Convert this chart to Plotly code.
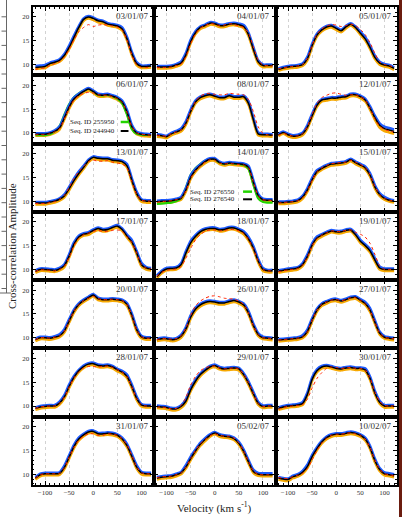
import plotly.graph_objects as go
from plotly.subplots import make_subplots

velocity = [-120, -110, -100, -90, -80, -70, -60, -50, -40, -30, -20, -10, 0,
            10, 20, 30, 40, 50, 60, 70, 80, 90, 100, 110, 120]

dates = ["03/01/07", "04/01/07", "05/01/07", "06/01/07", "08/01/07", "12/01/07",
         "13/01/07", "14/01/07", "15/01/07", "17/01/07", "18/01/07", "19/01/07",
         "20/01/07", "26/01/07", "27/01/07", "28/01/07", "29/01/07", "30/01/07",
         "31/01/07", "05/02/07", "10/02/07"]

black = [
    [9.4, 9.5, 9.6, 10.2, 10.5, 10.9, 11.9, 13.6, 15.7, 17.8, 19.5, 20.0, 19.7, 19.2, 19.0, 18.5, 18.3, 18.1, 17.5, 15.4, 12.3, 10.2, 9.6, 9.6, 9.7],
    [9.5, 9.5, 9.5, 9.6, 9.9, 10.3, 12.0, 14.8, 16.7, 17.8, 18.2, 18.7, 18.6, 18.2, 18.2, 18.5, 18.6, 18.4, 18.0, 16.3, 13.3, 10.6, 9.8, 9.8, 9.8],
    [9.0, 9.3, 9.5, 9.6, 9.7, 10.0, 11.2, 14.0, 16.2, 17.3, 17.9, 18.1, 17.6, 17.1, 17.9, 18.5, 17.8, 16.6, 15.4, 13.6, 11.5, 10.3, 9.9, 9.7, 9.2],
    [9.7, 9.7, 9.7, 9.9, 10.3, 11.0, 13.1, 15.4, 17.1, 18.0, 18.7, 19.2, 18.7, 18.0, 17.9, 18.0, 17.7, 17.3, 16.5, 14.4, 11.3, 10.0, 9.7, 9.6, 9.5],
    [9.5, 9.4, 9.2, 9.8, 10.2, 10.6, 12.0, 14.5, 16.5, 17.4, 17.8, 18.0, 17.7, 17.4, 17.4, 17.8, 17.5, 17.5, 17.6, 16.2, 12.8, 9.8, 9.6, 9.6, 9.5],
    [9.6, 10.1, 9.6, 9.3, 9.4, 9.8, 11.2, 13.6, 15.8, 16.9, 17.1, 17.3, 17.3, 17.5, 17.6, 18.0, 18.0, 17.6, 16.9, 15.2, 13.2, 11.6, 10.9, 10.6, 10.3],
    [9.6, 9.6, 9.6, 9.8, 10.0, 10.4, 11.1, 12.6, 14.3, 15.8, 17.1, 18.5, 19.2, 19.0, 18.9, 18.9, 18.6, 18.5, 18.3, 17.4, 14.4, 11.6, 10.2, 10.0, 10.0],
    [9.9, 10.0, 10.0, 10.1, 10.3, 10.6, 12.3, 15.0, 16.5, 17.5, 18.3, 18.8, 18.8, 18.1, 17.8, 18.0, 17.9, 17.8, 17.7, 17.1, 14.0, 11.2, 10.3, 10.2, 10.2],
    [9.7, 9.7, 9.8, 9.9, 10.1, 10.8, 12.3, 14.5, 16.2, 16.9, 17.4, 17.8, 17.9, 18.0, 18.2, 18.7, 18.1, 17.6, 17.0, 15.5, 13.0, 11.4, 10.6, 10.2, 10.0],
    [9.6, 10.0, 10.0, 9.9, 9.8, 10.1, 10.8, 12.8, 15.3, 16.8, 17.4, 17.6, 18.2, 18.6, 18.3, 18.4, 18.8, 19.1, 18.4, 17.0, 15.8, 13.5, 11.0, 10.3, 10.1],
    [8.5, 9.5, 10.1, 10.2, 10.3, 11.0, 13.4, 15.6, 16.9, 17.9, 18.4, 18.6, 18.6, 18.3, 18.4, 18.7, 18.7, 18.3, 17.7, 16.4, 14.5, 11.8, 10.0, 9.7, 9.7],
    [9.6, 9.8, 10.0, 10.1, 10.3, 11.0, 12.7, 15.1, 16.6, 17.2, 17.7, 18.1, 17.9, 17.9, 18.2, 18.3, 17.3, 15.9, 15.0, 13.9, 12.0, 10.3, 10.0, 10.0, 10.0],
    [9.6, 10.0, 10.0, 9.9, 10.1, 10.4, 11.4, 13.5, 15.6, 17.0, 17.8, 18.4, 19.0, 18.2, 18.0, 18.0, 18.1, 18.0, 17.8, 17.0, 14.7, 11.7, 10.2, 9.9, 9.9],
    [9.6, 9.8, 9.8, 9.6, 9.7, 10.3, 11.8, 14.3, 16.0, 16.9, 17.4, 17.6, 17.5, 17.3, 17.3, 17.6, 17.8, 17.5, 16.9, 15.2, 12.6, 10.7, 10.0, 9.9, 9.8],
    [9.5, 9.6, 9.7, 9.8, 9.9, 10.2, 11.3, 13.7, 15.8, 17.0, 17.5, 17.9, 18.0, 17.7, 18.0, 18.4, 18.5, 17.9, 17.2, 15.8, 13.3, 11.0, 10.1, 9.9, 9.8],
    [9.5, 9.8, 9.9, 10.0, 10.0, 10.6, 11.9, 14.1, 16.0, 17.4, 18.3, 18.8, 18.9, 18.5, 18.4, 18.5, 18.2, 17.6, 17.1, 16.2, 14.1, 11.6, 10.2, 10.0, 10.0],
    [9.9, 9.8, 9.7, 9.4, 9.4, 9.9, 11.0, 13.4, 15.2, 16.6, 17.5, 18.2, 18.5, 18.0, 17.8, 17.9, 18.0, 17.8, 16.6, 14.8, 12.6, 10.6, 9.9, 10.0, 10.0],
    [9.5, 9.8, 10.0, 10.1, 10.2, 10.5, 12.4, 15.6, 17.4, 18.2, 18.4, 18.2, 17.9, 17.8, 18.0, 18.1, 17.9, 17.9, 17.6, 15.8, 12.8, 10.8, 10.0, 10.0, 10.0],
    [9.2, 9.9, 10.1, 10.1, 10.1, 10.2, 11.4, 13.6, 15.8, 17.4, 18.3, 18.9, 19.0, 18.5, 18.5, 18.6, 18.5, 18.2, 17.4, 16.0, 13.8, 11.5, 10.3, 10.1, 10.1],
    [9.2, 9.4, 9.5, 9.6, 9.9, 10.3, 11.5, 13.3, 14.9, 16.3, 17.3, 18.2, 18.7, 18.2, 18.0, 17.9, 17.5, 16.5, 14.8, 12.6, 10.6, 10.0, 9.9, 9.9, 9.9],
    [9.2, 9.0, 8.9, 9.5, 9.8, 10.4, 11.6, 13.7, 15.4, 16.8, 17.7, 18.2, 18.4, 18.4, 18.6, 18.8, 18.6, 18.2, 17.4, 15.6, 12.9, 11.0, 10.1, 9.9, 9.7],
]

blue = [
    [9.7, 9.8, 9.9, 10.4, 10.7, 11.1, 12.2, 14.0, 16.1, 18.1, 19.7, 20.2, 19.9, 19.4, 19.2, 18.7, 18.5, 18.3, 17.8, 15.8, 12.7, 10.5, 9.8, 9.8, 9.9],
    [9.7, 9.7, 9.7, 9.8, 10.1, 10.6, 12.4, 15.2, 17.0, 18.0, 18.4, 18.9, 18.8, 18.4, 18.4, 18.7, 18.8, 18.6, 18.3, 16.7, 13.7, 10.9, 10.0, 10.0, 10.0],
    [9.2, 9.5, 9.7, 9.8, 9.9, 10.2, 11.6, 14.4, 16.5, 17.5, 18.1, 18.3, 17.8, 17.3, 18.1, 18.7, 18.0, 16.9, 15.8, 14.0, 11.9, 10.6, 10.1, 9.9, 9.4],
    [9.9, 9.9, 9.9, 10.1, 10.5, 11.3, 13.5, 15.8, 17.4, 18.2, 18.9, 19.4, 18.9, 18.2, 18.1, 18.2, 17.9, 17.5, 16.8, 14.8, 11.7, 10.2, 9.9, 9.8, 9.7],
    [9.7, 9.6, 9.4, 10.0, 10.4, 10.9, 12.4, 14.9, 16.8, 17.6, 18.0, 18.2, 17.9, 17.6, 17.6, 18.0, 17.7, 17.7, 17.8, 16.6, 13.2, 10.1, 9.8, 9.8, 9.7],
    [9.8, 10.3, 9.8, 9.5, 9.6, 10.0, 11.6, 14.0, 16.1, 17.1, 17.3, 17.5, 17.5, 17.7, 17.8, 18.2, 18.2, 17.8, 17.2, 15.6, 13.6, 12.0, 11.3, 11.0, 10.7],
    [9.8, 9.8, 9.8, 10.0, 10.2, 10.6, 11.4, 13.0, 14.7, 16.2, 17.4, 18.7, 19.4, 19.2, 19.1, 19.1, 18.8, 18.7, 18.5, 17.8, 14.8, 12.0, 10.4, 10.2, 10.2],
    [10.1, 10.2, 10.2, 10.3, 10.5, 10.9, 12.7, 15.4, 16.8, 17.7, 18.5, 19.0, 19.0, 18.3, 18.0, 18.2, 18.1, 18.0, 17.9, 17.4, 14.4, 11.5, 10.5, 10.4, 10.4],
    [9.9, 9.9, 10.0, 10.1, 10.3, 11.1, 12.7, 14.9, 16.5, 17.1, 17.6, 18.0, 18.1, 18.2, 18.4, 18.9, 18.3, 17.8, 17.3, 15.9, 13.4, 11.7, 10.9, 10.4, 10.2],
    [9.8, 10.2, 10.2, 10.1, 10.0, 10.3, 11.1, 13.2, 15.7, 17.1, 17.6, 17.8, 18.4, 18.8, 18.5, 18.6, 19.0, 19.3, 18.6, 17.3, 16.2, 13.9, 11.4, 10.5, 10.3],
    [8.7, 9.7, 10.3, 10.4, 10.5, 11.3, 13.8, 16.0, 17.2, 18.1, 18.6, 18.8, 18.8, 18.5, 18.6, 18.9, 18.9, 18.5, 18.0, 16.8, 14.9, 12.2, 10.3, 9.9, 9.9],
    [9.8, 10.0, 10.2, 10.3, 10.5, 11.3, 13.1, 15.5, 16.9, 17.4, 17.9, 18.3, 18.1, 18.1, 18.4, 18.5, 17.6, 16.2, 15.3, 14.3, 12.4, 10.6, 10.2, 10.2, 10.2],
    [9.8, 10.2, 10.2, 10.1, 10.3, 10.7, 11.8, 13.9, 15.9, 17.2, 18.0, 18.6, 19.2, 18.4, 18.2, 18.2, 18.3, 18.2, 18.0, 17.3, 15.1, 12.1, 10.4, 10.1, 10.1],
    [9.8, 10.0, 10.0, 9.8, 9.9, 10.6, 12.2, 14.7, 16.3, 17.1, 17.6, 17.8, 17.7, 17.5, 17.5, 17.8, 18.0, 17.7, 17.2, 15.6, 13.0, 11.0, 10.2, 10.1, 10.0],
    [9.7, 9.8, 9.9, 10.0, 10.1, 10.5, 11.7, 14.1, 16.1, 17.2, 17.7, 18.1, 18.2, 17.9, 18.2, 18.6, 18.7, 18.1, 17.5, 16.2, 13.7, 11.3, 10.3, 10.1, 10.0],
    [9.7, 10.0, 10.1, 10.2, 10.2, 10.9, 12.3, 14.5, 16.3, 17.6, 18.5, 19.0, 19.1, 18.7, 18.6, 18.7, 18.4, 17.8, 17.4, 16.6, 14.5, 12.0, 10.4, 10.2, 10.2],
    [10.1, 10.0, 9.9, 9.6, 9.6, 10.1, 11.4, 13.8, 15.5, 16.8, 17.7, 18.4, 18.7, 18.2, 18.0, 18.1, 18.2, 18.0, 16.9, 15.2, 13.0, 10.9, 10.1, 10.2, 10.2],
    [9.7, 10.0, 10.2, 10.3, 10.4, 10.8, 12.8, 16.0, 17.7, 18.4, 18.6, 18.4, 18.1, 18.0, 18.2, 18.3, 18.1, 18.1, 17.9, 16.2, 13.2, 11.1, 10.2, 10.2, 10.2],
    [9.4, 10.1, 10.3, 10.3, 10.3, 10.4, 11.8, 14.0, 16.2, 17.7, 18.5, 19.1, 19.2, 18.7, 18.7, 18.8, 18.7, 18.4, 17.7, 16.4, 14.2, 11.9, 10.5, 10.3, 10.3],
    [9.4, 9.6, 9.7, 9.8, 10.1, 10.5, 11.9, 13.7, 15.2, 16.6, 17.6, 18.4, 18.9, 18.4, 18.2, 18.1, 17.7, 16.8, 15.2, 13.0, 11.0, 10.3, 10.2, 10.2, 10.2],
    [9.4, 9.2, 9.1, 9.7, 10.0, 10.7, 12.0, 14.1, 15.7, 17.0, 17.9, 18.4, 18.6, 18.6, 18.8, 19.0, 18.8, 18.4, 17.7, 16.0, 13.3, 11.3, 10.4, 10.2, 10.0],
]

orange = [
    [9.1, 9.2, 9.3, 9.9, 10.2, 10.6, 11.6, 13.3, 15.3, 17.4, 19.2, 19.7, 19.4, 18.9, 18.7, 18.2, 18.0, 17.8, 17.2, 15.1, 12.0, 9.9, 9.3, 9.3, 9.4],
    [9.2, 9.2, 9.2, 9.3, 9.6, 10.0, 11.7, 14.5, 16.4, 17.5, 17.9, 18.4, 18.3, 17.9, 17.9, 18.2, 18.3, 18.1, 17.7, 16.0, 13.0, 10.3, 9.5, 9.5, 9.5],
    [8.7, 9.0, 9.2, 9.3, 9.4, 9.7, 10.9, 13.7, 15.9, 17.0, 17.6, 17.8, 17.3, 16.8, 17.6, 18.2, 17.5, 16.3, 15.1, 13.3, 11.2, 10.0, 9.6, 9.4, 8.9],
    [9.4, 9.4, 9.4, 9.6, 10.0, 10.7, 12.8, 15.1, 16.8, 17.7, 18.4, 18.9, 18.4, 17.7, 17.6, 17.7, 17.4, 17.0, 16.2, 14.1, 11.0, 9.7, 9.4, 9.3, 9.2],
    [9.2, 9.1, 8.9, 9.5, 9.9, 10.3, 11.7, 14.2, 16.2, 17.1, 17.5, 17.7, 17.4, 17.1, 17.1, 17.5, 17.2, 17.2, 17.3, 15.9, 12.5, 9.5, 9.3, 9.3, 9.2],
    [9.3, 9.8, 9.3, 9.0, 9.1, 9.5, 10.9, 13.3, 15.5, 16.6, 16.8, 17.0, 17.0, 17.2, 17.3, 17.7, 17.7, 17.3, 16.6, 14.9, 12.8, 11.1, 10.4, 10.1, 9.8],
    [9.3, 9.3, 9.3, 9.5, 9.7, 10.1, 10.8, 12.3, 14.0, 15.5, 16.8, 18.2, 18.9, 18.7, 18.6, 18.6, 18.3, 18.2, 18.0, 17.1, 14.1, 11.3, 9.9, 9.7, 9.7],
    [9.6, 9.7, 9.7, 9.8, 10.0, 10.3, 12.0, 14.7, 16.2, 17.2, 18.0, 18.5, 18.5, 17.8, 17.5, 17.7, 17.6, 17.5, 17.4, 16.8, 13.7, 10.9, 10.0, 9.9, 9.9],
    [9.4, 9.4, 9.5, 9.6, 9.8, 10.5, 12.0, 14.2, 15.9, 16.6, 17.1, 17.5, 17.6, 17.7, 17.9, 18.4, 17.8, 17.3, 16.7, 15.2, 12.7, 11.1, 10.3, 9.9, 9.7],
    [9.3, 9.7, 9.7, 9.6, 9.5, 9.8, 10.5, 12.5, 15.0, 16.5, 17.1, 17.3, 17.9, 18.3, 18.0, 18.1, 18.5, 18.8, 18.1, 16.7, 15.5, 13.2, 10.7, 10.0, 9.8],
    [8.2, 9.2, 9.8, 9.9, 10.0, 10.7, 13.1, 15.3, 16.6, 17.6, 18.1, 18.3, 18.3, 18.0, 18.1, 18.4, 18.4, 18.0, 17.4, 16.1, 14.2, 11.5, 9.7, 9.4, 9.4],
    [9.3, 9.5, 9.7, 9.8, 10.0, 10.7, 12.4, 14.8, 16.3, 16.9, 17.4, 17.8, 17.6, 17.6, 17.9, 18.0, 17.0, 15.6, 14.7, 13.6, 11.7, 10.0, 9.7, 9.7, 9.7],
    [9.3, 9.7, 9.7, 9.6, 9.8, 10.1, 11.1, 13.2, 15.3, 16.7, 17.5, 18.1, 18.7, 17.9, 17.7, 17.7, 17.8, 17.7, 17.5, 16.7, 14.4, 11.4, 9.9, 9.6, 9.6],
    [9.3, 9.5, 9.5, 9.3, 9.4, 10.0, 11.5, 14.0, 15.7, 16.6, 17.1, 17.3, 17.2, 17.0, 17.0, 17.3, 17.5, 17.2, 16.6, 14.9, 12.3, 10.4, 9.7, 9.6, 9.5],
    [9.2, 9.3, 9.4, 9.5, 9.6, 9.9, 11.0, 13.4, 15.5, 16.7, 17.2, 17.6, 17.7, 17.4, 17.7, 18.1, 18.2, 17.6, 16.9, 15.5, 13.0, 10.7, 9.8, 9.6, 9.5],
    [9.2, 9.5, 9.6, 9.7, 9.7, 10.3, 11.6, 13.8, 15.7, 17.1, 18.0, 18.5, 18.6, 18.2, 18.1, 18.2, 17.9, 17.3, 16.8, 15.9, 13.8, 11.3, 9.9, 9.7, 9.7],
    [9.6, 9.5, 9.4, 9.1, 9.1, 9.6, 10.7, 13.1, 14.9, 16.3, 17.2, 17.9, 18.2, 17.7, 17.5, 17.6, 17.7, 17.5, 16.3, 14.5, 12.3, 10.3, 9.6, 9.7, 9.7],
    [9.2, 9.5, 9.7, 9.8, 9.9, 10.2, 12.1, 15.3, 17.1, 17.9, 18.1, 17.9, 17.6, 17.5, 17.7, 17.8, 17.6, 17.6, 17.3, 15.5, 12.5, 10.5, 9.7, 9.7, 9.7],
    [8.9, 9.6, 9.8, 9.8, 9.8, 9.9, 11.1, 13.3, 15.5, 17.1, 18.0, 18.6, 18.7, 18.2, 18.2, 18.3, 18.2, 17.9, 17.1, 15.7, 13.5, 11.2, 10.0, 9.8, 9.8],
    [8.9, 9.1, 9.2, 9.3, 9.6, 10.0, 11.2, 13.0, 14.6, 16.0, 17.0, 17.9, 18.4, 17.9, 17.7, 17.6, 17.2, 16.2, 14.5, 12.3, 10.3, 9.7, 9.6, 9.6, 9.6],
    [8.9, 8.7, 8.6, 9.2, 9.5, 10.1, 11.3, 13.4, 15.1, 16.5, 17.4, 17.9, 18.1, 18.1, 18.3, 18.5, 18.3, 17.9, 17.1, 15.3, 12.6, 10.7, 9.8, 9.6, 9.4],
]

red = [
    [9.0, 9.2, 9.3, 9.8, 10.2, 10.6, 11.6, 13.2, 15.2, 16.9, 17.8, 18.4, 18.0, 18.3, 18.4, 18.3, 18.1, 17.9, 17.3, 15.2, 12.1, 10.0, 9.4, 9.4, 9.5],
    [9.4, 9.4, 9.4, 9.5, 9.8, 10.1, 11.7, 14.4, 16.5, 17.7, 18.2, 18.6, 18.5, 18.2, 18.3, 18.6, 18.4, 18.1, 17.8, 16.6, 13.8, 11.0, 9.9, 9.8, 9.7],
    [9.1, 9.3, 9.5, 9.6, 9.7, 10.0, 11.3, 14.1, 16.4, 17.5, 18.1, 18.4, 18.3, 18.0, 18.2, 18.5, 18.2, 17.4, 16.3, 14.6, 12.4, 10.6, 10.0, 9.8, 9.4],
    [9.6, 9.6, 9.6, 9.8, 10.2, 10.9, 12.9, 15.2, 16.9, 17.8, 18.3, 18.5, 18.4, 18.0, 17.9, 17.9, 17.6, 17.2, 16.4, 14.3, 11.3, 10.0, 9.7, 9.6, 9.5],
    [9.5, 9.4, 9.3, 9.8, 10.2, 10.6, 12.0, 14.5, 16.6, 17.7, 18.2, 18.3, 18.1, 18.0, 18.0, 18.3, 18.2, 18.1, 18.0, 17.0, 14.5, 11.3, 9.9, 9.6, 9.5],
    [9.5, 9.9, 9.6, 9.3, 9.4, 9.8, 11.3, 13.9, 16.2, 17.4, 17.9, 18.3, 18.4, 18.1, 17.9, 18.0, 18.0, 17.6, 16.9, 15.2, 13.0, 11.4, 10.7, 10.4, 10.1],
    [9.5, 9.5, 9.5, 9.7, 9.9, 10.4, 11.2, 12.9, 14.8, 16.2, 17.3, 18.3, 18.6, 18.4, 18.4, 18.5, 18.2, 18.0, 17.8, 17.0, 14.2, 11.5, 10.2, 10.0, 10.0],
    [9.8, 9.9, 10.0, 10.1, 10.3, 10.6, 12.2, 14.8, 16.4, 17.4, 18.2, 18.7, 18.6, 18.0, 17.8, 17.9, 17.8, 17.7, 17.6, 17.0, 14.0, 11.2, 10.3, 10.2, 10.1],
    [9.6, 9.7, 9.8, 9.9, 10.1, 10.7, 12.2, 14.4, 16.2, 17.0, 17.5, 17.9, 18.0, 18.1, 18.2, 18.6, 18.2, 17.7, 17.1, 15.6, 13.1, 11.4, 10.6, 10.2, 10.0],
    [9.6, 9.9, 9.9, 9.8, 9.7, 10.0, 10.7, 12.6, 15.0, 16.6, 17.3, 17.6, 18.0, 18.2, 18.0, 18.0, 18.2, 18.3, 18.0, 16.9, 15.7, 13.5, 11.0, 10.3, 10.1],
    [8.6, 9.4, 9.8, 10.0, 10.1, 10.6, 12.3, 14.4, 16.2, 17.3, 18.0, 18.3, 18.3, 18.1, 18.2, 18.4, 18.4, 18.1, 17.6, 16.3, 14.4, 11.8, 10.0, 9.7, 9.7],
    [9.5, 9.7, 9.9, 10.0, 10.2, 10.9, 12.6, 15.0, 16.5, 17.2, 17.7, 18.1, 18.0, 18.0, 18.2, 18.3, 17.8, 17.4, 16.8, 15.5, 13.2, 10.8, 10.0, 10.0, 10.0],
    [9.6, 10.0, 10.0, 9.9, 10.1, 10.4, 11.4, 13.5, 15.6, 17.0, 17.8, 18.3, 18.7, 18.2, 18.0, 18.0, 18.1, 18.0, 17.8, 17.0, 14.7, 11.7, 10.2, 9.9, 9.9],
    [9.6, 9.8, 9.8, 9.7, 9.8, 10.4, 12.0, 14.7, 16.7, 17.7, 18.3, 18.7, 18.8, 18.6, 18.3, 18.2, 18.1, 17.7, 17.0, 15.2, 12.6, 10.7, 10.0, 9.9, 9.8],
    [9.5, 9.6, 9.7, 9.8, 9.9, 10.2, 11.3, 13.7, 15.8, 17.0, 17.5, 17.9, 18.0, 17.8, 18.0, 18.4, 18.4, 17.9, 17.2, 15.8, 13.3, 11.0, 10.1, 9.9, 9.8],
    [9.5, 9.8, 9.9, 10.0, 10.0, 10.6, 11.9, 14.0, 15.9, 17.2, 18.0, 18.3, 18.3, 18.2, 18.3, 18.4, 18.1, 17.6, 17.1, 16.2, 14.1, 11.6, 10.2, 10.0, 10.0],
    [9.8, 9.8, 9.6, 9.4, 9.5, 10.1, 11.8, 14.4, 16.2, 17.4, 18.0, 18.3, 18.4, 18.0, 17.8, 17.9, 18.0, 17.8, 16.7, 14.9, 12.7, 10.6, 9.9, 10.0, 10.0],
    [9.3, 9.7, 9.9, 10.0, 10.1, 10.3, 11.4, 13.8, 15.8, 17.0, 17.9, 18.2, 18.1, 17.9, 18.0, 18.1, 17.9, 17.9, 17.6, 15.9, 13.0, 11.0, 10.1, 10.0, 10.0],
    [9.2, 9.9, 10.1, 10.1, 10.1, 10.2, 11.4, 13.6, 15.7, 17.2, 18.0, 18.5, 18.5, 18.2, 18.2, 18.5, 18.4, 18.2, 17.5, 16.2, 14.0, 11.6, 10.3, 10.1, 10.1],
    [9.3, 9.5, 9.5, 9.6, 9.9, 10.3, 11.5, 13.3, 15.0, 16.4, 17.3, 18.1, 18.5, 18.2, 18.0, 18.0, 17.6, 16.6, 14.9, 12.7, 10.7, 10.0, 9.9, 9.9, 9.9],
    [9.3, 9.2, 9.1, 9.5, 9.8, 10.2, 11.2, 13.0, 15.0, 16.6, 17.6, 18.2, 18.4, 18.4, 18.6, 18.7, 18.5, 18.2, 17.4, 15.7, 13.0, 11.1, 10.1, 9.9, 9.7],
]

green_0601 = [9.5, 9.5, 9.5, 9.7, 10.3, 11.4, 13.8, 16.0, 17.5, 18.3, 18.9, 19.3, 18.8, 18.0, 17.9, 18.0, 17.7, 17.2, 16.2, 13.8, 10.8, 9.8, 9.6, 9.6, 9.5]
green_1401 = [9.4, 9.5, 9.6, 9.7, 10.0, 10.6, 12.8, 15.5, 16.9, 17.8, 18.5, 18.9, 18.8, 18.1, 17.8, 18.0, 17.9, 17.8, 17.6, 16.8, 13.5, 10.6, 9.8, 9.7, 9.7]
legend_0601 = ["Seq. ID 255950", "Seq. ID 244940"]
legend_1401 = ["Seq. ID 276550", "Seq. ID 276540"]

x_ticks = [-100, -50, 0, 50, 100]
y_ticks = [10, 15, 20]

W, H = 403, 517
LEFT, RIGHT, TOP, BOTTOM = 32.5, 397.0, 7.0, 485.0
NR, NC = 7, 3
CW = (RIGHT - LEFT) / NC
RH = (BOTTOM - TOP) / NR

C_ORANGE = "#f7a900"
C_BLUE = "#1e5bff"
C_BLACK = "#000000"
C_RED = "#ff2200"
C_GREEN = "#22d400"
FONT = "Liberation Serif"

fig = make_subplots(rows=NR, cols=NC, horizontal_spacing=0, vertical_spacing=0)

green_map = {3: green_0601, 7: green_1401}

for i, d in enumerate(dates):
    r, c = divmod(i, NC)
    spl = dict(shape="spline", smoothing=0.7)
    fig.add_trace(go.Scatter(x=velocity, y=orange[i], mode="lines",
                             line=dict(color=C_ORANGE, width=2.6, **spl), hoverinfo="skip"),
                  row=r + 1, col=c + 1)
    if i in green_map:
        fig.add_trace(go.Scatter(x=velocity, y=green_map[i], mode="lines",
                                 line=dict(color=C_GREEN, width=2.2, **spl), hoverinfo="skip"),
                      row=r + 1, col=c + 1)
    fig.add_trace(go.Scatter(x=velocity, y=blue[i], mode="lines",
                             line=dict(color=C_BLUE, width=2.6, **spl), hoverinfo="skip"),
                  row=r + 1, col=c + 1)
    fig.add_trace(go.Scatter(x=velocity, y=black[i], mode="lines",
                             line=dict(color=C_BLACK, width=1.5, **spl), hoverinfo="skip"),
                  row=r + 1, col=c + 1)
    fig.add_trace(go.Scatter(x=velocity, y=red[i], mode="lines",
                             line=dict(color=C_RED, width=1, dash="dot", **spl), hoverinfo="skip"),
                  row=r + 1, col=c + 1)

annotations = []
shapes = []
for i, d in enumerate(dates):
    r, c = divmod(i, NC)
    sfx = "" if i == 0 else str(i + 1)
    x0 = (LEFT + c * CW) / W
    x1 = (LEFT + (c + 1) * CW) / W
    y1 = 1 - (TOP + r * RH) / H
    y0 = 1 - (TOP + (r + 1) * RH) / H
    fig.layout["xaxis" + sfx].update(
        domain=[x0, x1], range=[-126, 126], tickvals=x_ticks,
        ticks="inside", ticklen=4, tickwidth=1, tickcolor="black",
        showline=True, linecolor="black", linewidth=1.6, mirror="ticks",
        showgrid=True, gridcolor="#d2d2d2", griddash="dot", gridwidth=1,
        zeroline=False, showticklabels=(r == NR - 1),
        tickfont=dict(family=FONT, size=7, color="#333333"),
        minor=dict(ticks="inside", ticklen=2, tickwidth=1, tickcolor="black",
                   dtick=10, tick0=0, showgrid=False),
    )
    fig.layout["yaxis" + sfx].update(
        domain=[y0, y1], range=[7.75, 22.1], tickvals=y_ticks,
        ticks="inside", ticklen=4, tickwidth=1, tickcolor="black",
        showline=True, linecolor="black", linewidth=1.6, mirror="ticks",
        showgrid=False, zeroline=False, showticklabels=(c == 0),
        tickfont=dict(family=FONT, size=7, color="#333333"),
        minor=dict(ticks="inside", ticklen=2, tickwidth=1, tickcolor="black",
                   dtick=1, tick0=0, showgrid=False),
    )
    annotations.append(dict(
        text=d, xref=f"x{sfx} domain", yref=f"y{sfx} domain",
        x=0.975, y=0.87, xanchor="right", yanchor="middle", showarrow=False,
        font=dict(family=FONT, size=9, color="#333333")))

# in-panel legends
for idx, labels, xr, s0, s1, yy in [(3, legend_0601, 0.695, 0.726, 0.79, (0.316, 0.184)),
                                    (7, legend_1401, 0.683, 0.733, 0.807, (0.296, 0.184))]:
    sfx = str(idx + 1)
    for lab, col, w, yv in [(labels[0], C_GREEN, 2.5, yy[0]), (labels[1], C_BLACK, 2, yy[1])]:
        annotations.append(dict(
            text=lab, xref=f"x{sfx} domain", yref=f"y{sfx} domain",
            x=xr, y=yv, xanchor="right", yanchor="middle", showarrow=False,
            font=dict(family=FONT, size=7, color="#222222")))
        shapes.append(dict(type="line", xref=f"x{sfx} domain", yref=f"y{sfx} domain",
                           x0=s0, x1=s1, y0=yv, y1=yv, line=dict(color=col, width=w)))

# axis titles
annotations.append(dict(
    text="Cross-correlation Amplitude", xref="paper", yref="paper",
    x=12 / W, y=1 - 246 / H, textangle=-90, showarrow=False,
    xanchor="center", yanchor="middle",
    font=dict(family=FONT, size=11, color="#222222")))
annotations.append(dict(
    text="Velocity (km s<sup>-1</sup>)", xref="paper", yref="paper",
    x=(LEFT + RIGHT) / 2 / W, y=1 - 507 / H, showarrow=False,
    xanchor="center", yanchor="middle",
    font=dict(family=FONT, size=11, color="#222222")))

# page decorations (cropped neighbouring figure edges)
shapes.append(dict(type="line", xref="paper", yref="paper",
                   x0=6.5 / W, x1=6.5 / W, y0=1.0, y1=1 - 293 / H,
                   line=dict(color="#666666", width=1)))
shapes.append(dict(type="line", xref="paper", yref="paper",
                   x0=0, x1=11 / W, y0=1 - 293 / H, y1=1 - 293 / H,
                   line=dict(color="#666666", width=1)))
for k in range(1, 21):
    yp = 2.5 + 14.3 * k
    shapes.append(dict(type="line", xref="paper", yref="paper",
                       x0=1.5 / W, x1=6.5 / W, y0=1 - yp / H, y1=1 - yp / H,
                       line=dict(color="#666666", width=1)))
shapes.append(dict(type="rect", xref="paper", yref="paper",
                   x0=399 / W, x1=402 / W, y0=0, y1=1,
                   line=dict(width=0), fillcolor="#6b1c0f"))

fig.update_layout(
    width=W, height=H, margin=dict(l=0, r=0, t=0, b=0),
    paper_bgcolor="white", plot_bgcolor="white", showlegend=False,
    font=dict(family=FONT, color="#222222"),
    annotations=annotations, shapes=shapes,
)

fig.write_html("out.html")
